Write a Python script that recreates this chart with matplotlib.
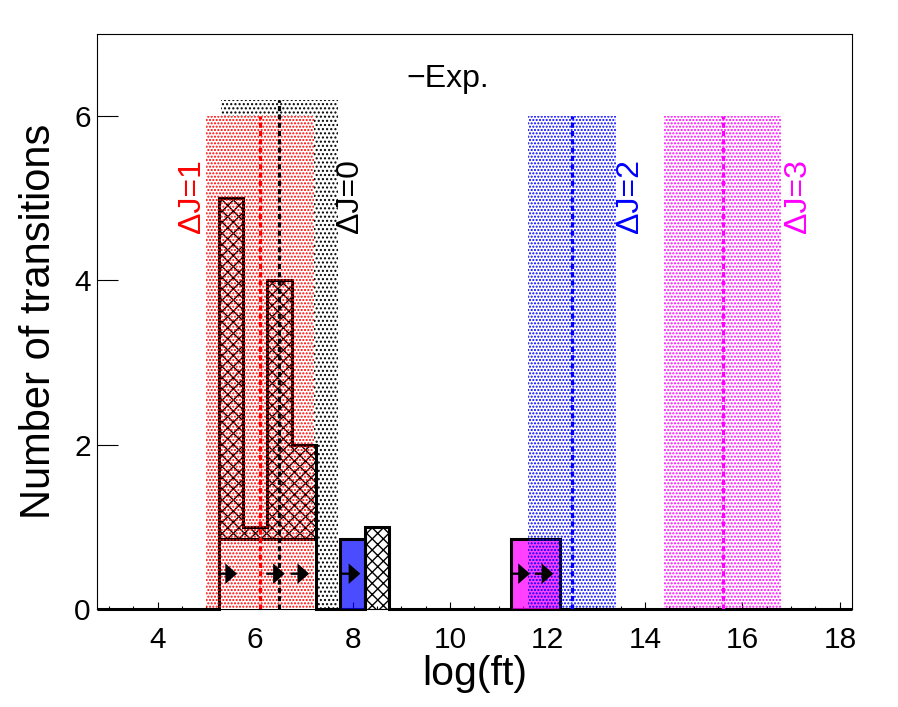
import numpy as np
import matplotlib
matplotlib.use("Agg")
import matplotlib.pyplot as plt
from matplotlib.ticker import MultipleLocator

plt.rcParams['font.family'] = ['Liberation Sans', 'DejaVu Sans']
plt.rcParams['hatch.linewidth'] = 1.0

# binning of log(ft), 0.5 wide bins
bin_lo, bin_hi, bin_w = 2.75, 18.25, 0.5

# measured transitions (Exp.)
exp_bin_starts = [5.25, 5.75, 6.25, 6.75, 8.25]
exp_counts = [5, 1, 4, 2, 1]

# lower limits, drawn lower with arrows
limit_height = 0.85
limit_red_bins = [5.25, 5.75, 6.25, 6.75]
limit_blue_bins = [7.75]
limit_magenta_bins = [11.25, 11.75]
arrow_starts = [5.25, 6.23, 6.73, 7.78, 11.26, 11.74]
arrow_y = 0.43
arrow_len = 0.38

# bands for each Delta J
band_labels = ["ΔJ=1", "ΔJ=0", "ΔJ=2", "ΔJ=3"]
band_centers = [6.1, 6.5, 12.5, 15.6]
band_halfwidths = [1.1, 1.2, 0.9, 1.2]
band_heights = [6.0, 6.2, 6.0, 6.0]
band_colors = ["red", "black", "blue", "magenta"]
band_on_top = [True, False, True, True]
band_hatches = ['.....', '....', '.....', '.....']
band_label_x = [4.7, 7.95, 13.69, 17.14]
band_label_y = 4.58

xticks = [4, 6, 8, 10, 12, 14, 16, 18]
yticks = [0, 2, 4, 6]

fig = plt.figure(figsize=(8.98, 7.07), dpi=100)
ax = fig.add_axes([0.1077, 0.1386, 0.8411, 0.8133])

edges = np.arange(bin_lo, bin_hi + bin_w / 2, bin_w)
counts = np.zeros(len(edges) - 1)
idx = np.round((np.array(exp_bin_starts) - bin_lo) / bin_w).astype(int)
counts[idx] = exp_counts

# Exp. histogram, crosshatched
ax.stairs(counts, edges, fill=True, facecolor='none', edgecolor='black',
          hatch='xxx', linewidth=2.2, joinstyle='miter', zorder=2,
          clip_on=False)

# lower limit histograms
for bins, face in [(limit_red_bins, 'white'),
                   (limit_blue_bins, (0.0, 0.0, 1.0, 0.7)),
                   (limit_magenta_bins, (1.0, 0.0, 1.0, 0.75))]:
    grp_edges = list(bins) + [bins[-1] + bin_w]
    ax.stairs([limit_height] * len(bins), grp_edges, fill=True,
              facecolor=face, edgecolor='black', linewidth=2.2,
              joinstyle='miter', zorder=3)

for x in arrow_starts:
    ax.arrow(x, arrow_y, arrow_len, 0, width=0.028, head_width=0.25,
             head_length=0.24, length_includes_head=True, fc='black',
             ec='black', lw=0, zorder=5.5)

# dotted bands with dashed centre lines
for c, hw, h, col, top, hat, lab, lx in zip(band_centers, band_halfwidths,
                                            band_heights, band_colors,
                                            band_on_top, band_hatches,
                                            band_labels, band_label_x):
    if top:
        # hide dots of bands drawn earlier underneath this one
        ax.bar(c, h, width=2 * hw, bottom=0, color='white', linewidth=0,
               zorder=1.5)
    ax.bar(c, h, width=2 * hw, bottom=0, facecolor='none', edgecolor=col,
           linewidth=0, hatch=hat, zorder=5 if top else 1)
    ax.vlines(c, 0, h, colors=col, linestyles=(0, (1.6, 1.0)),
              linewidth=2.3, zorder=6)
    ax.text(lx, band_label_y, lab, rotation=90, ha='center', va='bottom',
            color=col, fontsize=23)

ax.text(9.1, 6.35, "−Exp.", fontsize=23, ha='left', va='baseline')

ax.set_xlim(bin_lo, bin_hi)
ax.set_ylim(0, 7)
ax.set_xticks(xticks)
ax.set_yticks(yticks)
ax.xaxis.set_minor_locator(MultipleLocator(0.5))
ax.tick_params(axis='x', which='major', direction='in', length=5, width=0.8,
               labelsize=21.5, pad=12, top=False)
ax.tick_params(axis='x', which='minor', direction='in', length=2.5,
               width=0.8, top=False)
ax.tick_params(axis='y', which='major', direction='in', length=15,
               width=0.8, labelsize=21.5, pad=4.3, right=False)
for sp in ax.spines.values():
    sp.set_linewidth(0.8)

ax.set_xlabel('log(ft)', fontsize=29.5)
ax.set_ylabel('Number of transitions', fontsize=30)
ax.xaxis.set_label_coords(0.5, -0.08)
ax.yaxis.set_label_coords(-0.050, 0.5)

fig.savefig('out.png', dpi=100, facecolor='white')
